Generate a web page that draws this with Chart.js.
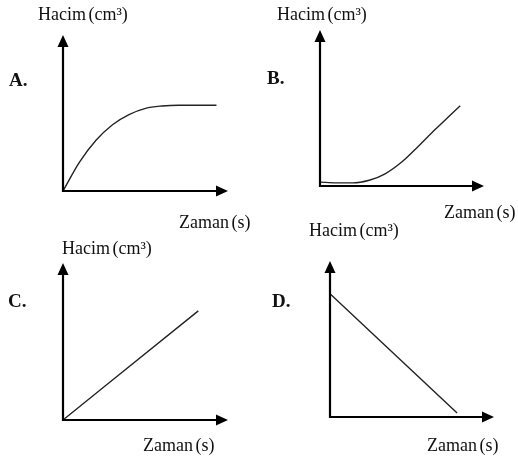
<!DOCTYPE html>
<html>
<head>
<meta charset="utf-8">
<script src="https://cdn.jsdelivr.net/npm/chart.js@4.4.1/dist/chart.umd.min.js"></script>
<style>
  body { margin: 0; background: #fff; }
  #page { position: relative; width: 518px; height: 462px; overflow: hidden;
          font-family: "Liberation Serif", "Times New Roman", serif; color: #111; }
  canvas { position: absolute; }
  .t { position: absolute; font-size: 18px; line-height: 18px; white-space: nowrap; word-spacing: -2px; }
  .lbl { font-weight: bold; font-size: 19px; }
</style>
</head>
<body>
<div id="page"></div>
<script>
// ---- data (axis units 0..10) ----
const timeA = [0, 1, 2, 3, 4, 5, 6, 7, 8, 9.3];
const volA  = [0, 1.85, 3.25, 4.25, 4.9, 5.3, 5.45, 5.5, 5.5, 5.5];

const timeB = [0, 1, 2, 3, 4, 5, 6, 7, 8, 8.55];
const volB  = [0.25, 0.2, 0.2, 0.37, 0.8, 1.55, 2.55, 3.6, 4.6, 5.15];

const timeC = [0, 8.2];
const volC  = [0, 6.95];

const timeD = [0, 7.75];
const volD  = [7.9, 0.25];

const panelLabels = ["A.", "B.", "C.", "D."];
const yTitle = "Hacim (cm³)";
const xTitle = "Zaman (s)";

/* ===============================
   PANEL LAYOUT
================================ */
const panels = [
  { x: timeA, y: volA, left: 0,   top: 0,   w: 259, h: 231, pad: { left: 63, right: 31, top: 35, bottom: 40 },
    texts: [[yTitle, 38, 20], [panelLabels[0], 9, 86, true], [xTitle, 179, 228]] },
  { x: timeB, y: volB, left: 259, top: 0,   w: 259, h: 231, pad: { left: 61, right: 34, top: 30, bottom: 45 },
    texts: [[yTitle, 277, 20], [panelLabels[1], 267, 84, true], [xTitle, 444, 218]] },
  { x: timeC, y: volC, left: 0,   top: 231, w: 259, h: 231, pad: { left: 63, right: 31, top: 32, bottom: 42 },
    texts: [[yTitle, 62, 254], [panelLabels[2], 8, 307, true], [xTitle, 143, 451]] },
  { x: timeD, y: volD, left: 259, top: 231, w: 259, h: 231, pad: { left: 71, right: 24, top: 30, bottom: 45 },
    texts: [[yTitle, 309, 236], [panelLabels[3], 272, 307, true], [xTitle, 427, 451]] }
];

/* ===============================
   ARROW AXES PLUGIN
================================ */
const arrowAxes = {
  id: "arrowAxes",
  afterDraw(chart) {
    const { ctx, scales: { x, y } } = chart;
    const x0 = x.getPixelForValue(0), y0 = y.getPixelForValue(0);
    const xEnd = x.getPixelForValue(x.max), yEnd = y.getPixelForValue(y.max);
    const len = 12, half = 5.5;
    ctx.save();
    ctx.strokeStyle = "#000";
    ctx.fillStyle = "#000";
    ctx.lineWidth = 2.2;
    ctx.beginPath();
    ctx.moveTo(x0, yEnd + len - 1);
    ctx.lineTo(x0, y0);
    ctx.lineTo(xEnd - len + 1, y0);
    ctx.stroke();
    ctx.beginPath();
    ctx.moveTo(xEnd, y0);
    ctx.lineTo(xEnd - len, y0 - half);
    ctx.lineTo(xEnd - len, y0 + half);
    ctx.closePath();
    ctx.fill();
    ctx.beginPath();
    ctx.moveTo(x0, yEnd);
    ctx.lineTo(x0 - half, yEnd + len);
    ctx.lineTo(x0 + half, yEnd + len);
    ctx.closePath();
    ctx.fill();
    ctx.restore();
  }
};

const page = document.getElementById("page");

panels.forEach(p => {
  const cv = document.createElement("canvas");
  cv.width = p.w;
  cv.height = p.h;
  cv.style.left = p.left + "px";
  cv.style.top = p.top + "px";
  page.appendChild(cv);

  new Chart(cv, {
    type: "line",
    data: {
      datasets: [{
        data: p.x.map((v, i) => ({ x: v, y: p.y[i] })),
        borderColor: "#222",
        borderWidth: 1.4,
        pointRadius: 0,
        cubicInterpolationMode: "monotone",
        fill: false,
        clip: false
      }]
    },
    options: {
      responsive: false,
      animation: false,
      devicePixelRatio: 1,
      layout: { padding: p.pad },
      plugins: { legend: { display: false }, tooltip: { enabled: false } },
      scales: {
        x: { type: "linear", min: 0, max: 10, display: false },
        y: { type: "linear", min: 0, max: 10, display: false }
      }
    },
    plugins: [arrowAxes]
  });

  p.texts.forEach(([str, left, baseline, bold]) => {
    const d = document.createElement("div");
    d.className = bold ? "t lbl" : "t";
    d.textContent = str;
    d.style.left = left + "px";
    d.style.top = (baseline - 15) + "px";
    page.appendChild(d);
  });
});
</script>
</body>
</html>
